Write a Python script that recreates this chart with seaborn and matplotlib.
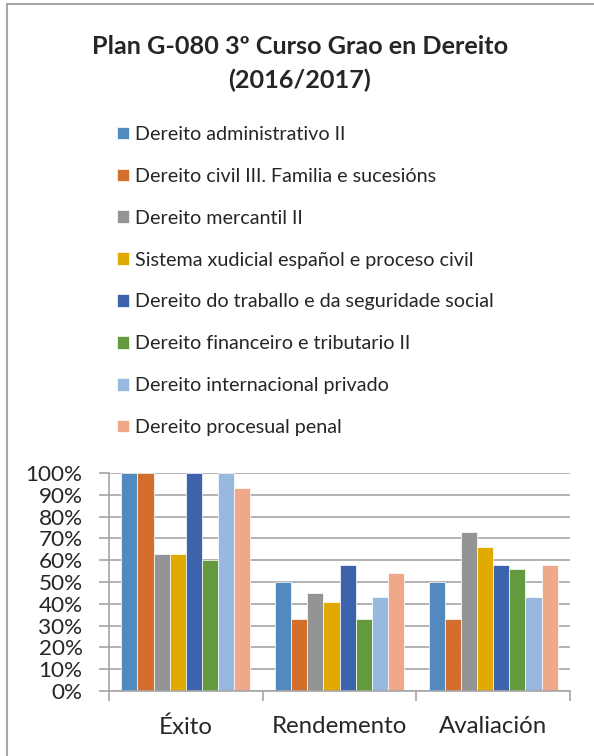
import numpy as np
import pandas as pd
import matplotlib
matplotlib.use('Agg')
import matplotlib.pyplot as plt
import seaborn as sns
from matplotlib.ticker import PercentFormatter, MultipleLocator

# ── data ──────────────────────────────────────────────────────
categories = ['Éxito', 'Rendemento', 'Avaliación']
subjects = [
    'Dereito administrativo II',
    'Dereito civil III. Familia e sucesións',
    'Dereito mercantil II',
    'Sistema xudicial español e proceso civil',
    'Dereito do traballo e da seguridade social',
    'Dereito financeiro e tributario II',
    'Dereito internacional privado',
    'Dereito procesual penal',
]
exito      = [100, 100, 63, 63, 100, 60, 100, 93]
rendemento = [50, 33, 45, 41, 58, 33, 43, 54]
avaliacion = [50, 33, 73, 66, 58, 56, 43, 58]
colors = ['#5289BE', '#D36E2C', '#949494', '#E0AA00',
          '#3C63AC', '#629A3D', '#98B9DF', '#F0A88A']

rows = []
for cat, vals in zip(categories, [exito, rendemento, avaliacion]):
    for subj, v in zip(subjects, vals):
        rows.append({'cat': cat, 'subject': subj, 'value': v})
df = pd.DataFrame(rows)

sns.set_style('white')
plt.rcParams['font.family'] = ['Lato', 'DejaVu Sans']

fig = plt.figure(figsize=(5.94, 7.56), dpi=100)
ax = fig.add_axes([109/594, 65/756, 461/594, 218/756])

sns.barplot(data=df, x='cat', y='value', hue='subject',
            order=categories, hue_order=subjects, palette=colors,
            saturation=1, width=0.84, edgecolor='white', linewidth=0.5,
            ax=ax, legend=True)

ax.set_ylim(0, 100)
ax.set_xlim(-0.5, 2.5)
ax.yaxis.set_major_locator(MultipleLocator(10))
ax.yaxis.set_major_formatter(PercentFormatter(decimals=0))
ax.grid(axis='y', color='#A6A6A6', linewidth=1.2)
ax.set_axisbelow(True)
for s in ['top', 'right']:
    ax.spines[s].set_visible(False)
for s in ['left', 'bottom']:
    ax.spines[s].set_color('#A6A6A6')
    ax.spines[s].set_linewidth(1.2)
ax.set_xlabel('')
ax.set_ylabel('')

# category ticks sit between groups, labels centred under groups
ax.set_xticks([-0.5, 0.5, 1.5, 2.5])
ax.set_xticklabels([])
ax.set_xticks([0, 1, 2], minor=True)
ax.set_xticklabels(categories, minor=True, fontsize=17.3)
ax.tick_params(axis='x', which='major', direction='out', length=7,
               width=1.2, color='#A6A6A6', bottom=True)
ax.tick_params(axis='x', which='minor', length=0, pad=18)
ax.tick_params(axis='y', direction='out', length=7, width=1.2,
               color='#A6A6A6', labelsize=16.2, pad=12, left=True)

handles, labels = ax.get_legend_handles_labels()
ax.get_legend().remove()
fig.legend(handles, labels, loc='upper left',
           bbox_to_anchor=(117/594, 1 - 126/756), frameon=False,
           fontsize=14.2, handlelength=0.62, handleheight=0.62,
           handletextpad=0.28, labelspacing=1.26, borderpad=0,
           borderaxespad=0)

fig.text(0.505, 1 - 47/756, 'Plan G-080 3º Curso Grao en Dereito',
         ha='center', va='center', fontsize=18.2, fontweight='bold')
fig.text(0.505, 1 - 80/756, '(2016/2017)',
         ha='center', va='center', fontsize=18.2, fontweight='bold')

# chart frame (only left and top edges fall inside the image)
fig.add_artist(plt.Line2D([7/594, 7/594], [0, 1 - 4/756],
                          transform=fig.transFigure, color='#A6A6A6', lw=1.5))
fig.add_artist(plt.Line2D([7/594, 1], [1 - 4/756, 1 - 4/756],
                          transform=fig.transFigure, color='#A6A6A6', lw=1.5))

fig.savefig('out.png', dpi=100)
